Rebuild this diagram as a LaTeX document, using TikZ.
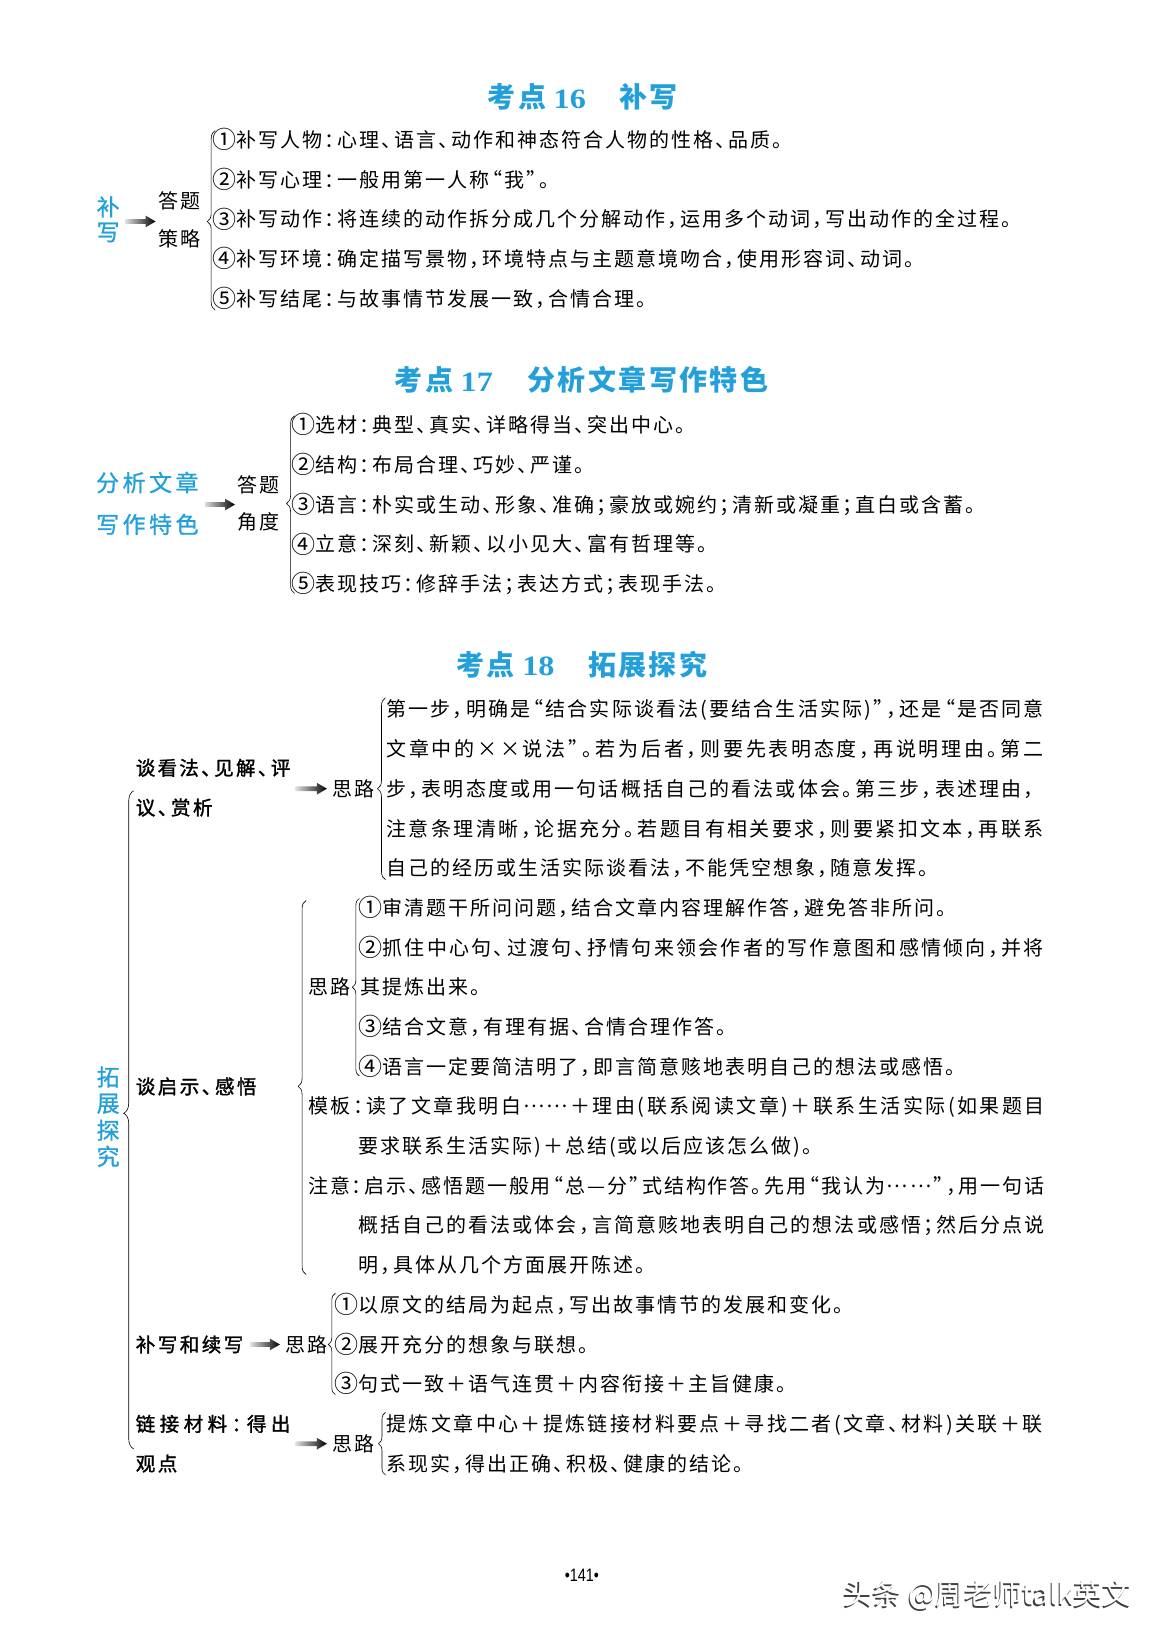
\documentclass[tikz,border=0pt]{standalone}
\usepackage{fontspec}
\usetikzlibrary{decorations.pathreplacing,calc}
\newfontfamily\cjk{Noto Sans CJK SC}
\newfontfamily\cjkm[FakeBold=1.5]{Noto Sans CJK SC}
\newfontfamily\cjkl[FakeBold=0.9]{Noto Sans CJK SC}
\newfontfamily\serifnum{Liberation Serif}
\newfontfamily\sansnum{Liberation Sans}
\definecolor{kcyan}{RGB}{35,160,218}

\XeTeXinterchartokenstate=1
\newcount\cjkcnt
\newdimen\cjkgap
\cjkgap=2pt
\def\cjkglue{\hskip\cjkgap plus 1fil minus 2pt\relax}
\def\hk{\kern-0.45em\relax}
\def\setcls#1#2#3{\cjkcnt=#1\relax\loop\XeTeXcharclass\cjkcnt=#3\relax\advance\cjkcnt by 1\relax\ifnum\cjkcnt<#2\relax\repeat}
\setcls{"3000}{"A000}{5}
\setcls{"FF00}{"FFF0}{5}
\setcls{"2460}{"2474}{5}
\XeTeXcharclass"2026=5
\XeTeXcharclass"2014=5
\XeTeXcharclass"00D7=5
% compressed closing punctuation
\XeTeXcharclass"3001=6 % 、
\XeTeXcharclass"3002=6 % 。
\XeTeXcharclass"FF0C=6 % ，
\XeTeXcharclass"FF1A=6 % ：
\XeTeXcharclass"FF1B=6 % ；
\XeTeXcharclass"201D=6 % ”
% compressed opening punctuation
\XeTeXcharclass"201C=7 % “
\XeTeXinterchartoks 5 5 = {\cjkglue}
\XeTeXinterchartoks 5 0 = {\cjkglue}
\XeTeXinterchartoks 0 5 = {\cjkglue}
\XeTeXinterchartoks 5 6 = {\cjkglue}
\XeTeXinterchartoks 0 6 = {\cjkglue}
\XeTeXinterchartoks 6 5 = {\hk\cjkglue}
\XeTeXinterchartoks 6 0 = {\hk\cjkglue}
\XeTeXinterchartoks 6 6 = {\hk\cjkglue}
\XeTeXinterchartoks 5 7 = {\cjkglue\hk}
\XeTeXinterchartoks 0 7 = {\cjkglue\hk}
\XeTeXinterchartoks 6 7 = {\hk\cjkglue\hk}
\XeTeXinterchartoks 7 5 = {\cjkglue}
\XeTeXinterchartoks 7 0 = {\cjkglue}

\newcommand\bodyfont{\cjk\fontsize{20pt}{20pt}\selectfont\cjkgap=2pt\relax}
\newcommand\boldfont{\cjkm\fontsize{19.5pt}{19.5pt}\selectfont\cjkgap=2.5pt\relax}
\newcommand\ttlfont{\cjk\bfseries\fontsize{28pt}{28pt}\selectfont\cjkgap=2.4pt\relax}
\newcommand\lblfont{\cjkl\fontsize{23pt}{23pt}\selectfont\cjkgap=3.5pt\relax}
\newcommand\numfont{\serifnum\bfseries\fontsize{28pt}{28pt}\selectfont}
\newcommand\cn[1]{\makebox[1em][c]{\raisebox{-0.06em}{\scalebox{1.2}{#1}}}\cjkglue}
\newcommand\ldts{\cjkglue\raisebox{0.3em}{……}\cjkglue}

\newcommand\garrow[2]{\shade[left color=gray!25,right color=black]
  let \p1=(#1), \p2=(#2) in
  (\x1,\y1+2.4pt) -- (\x2-10pt,\y1+2.4pt) -- (\x2-10pt,\y1+5.8pt) -- (\x2,\y1)
  -- (\x2-10pt,\y1-5.8pt) -- (\x2-10pt,\y1-2.4pt) -- (\x1,\y1-2.4pt) -- cycle;}

\tikzset{
  every node/.style={inner sep=0pt,outer sep=0pt},
  bodyw/.style={font=\bodyfont,anchor=west,text height=15.2pt,text depth=0pt},
  bodyc/.style={font=\bodyfont,anchor=center,text height=15.2pt,text depth=0pt},
  boldw/.style={font=\boldfont,anchor=west,text height=14.8pt,text depth=0pt},
  ttlw/.style={font=\ttlfont,text=kcyan,anchor=west,text height=21.3pt,text depth=0pt},
  ttlnum/.style={font=\numfont,text=kcyan,anchor=base west},
  lblc/.style={font=\lblfont,text=kcyan,anchor=center,text height=17.5pt,text depth=0pt},
  lblw/.style={font=\lblfont,text=kcyan,anchor=west,text height=17.5pt,text depth=0pt},
  brc/.style 2 args={decorate,decoration={brace,amplitude=#1,aspect=#2},line width=0.6pt},
}

\begin{document}
\begin{tikzpicture}[x=1.0448pt,y=-1.0448pt]
\fill[white] (0,0) rectangle (1115,1568);
\useasboundingbox (0,0) rectangle (1115,1568);

% ---------------- Section 16
\node[ttlw] (t16a) at (467,93) {考点};
\node[ttlnum] (t16b) at (530,104) {\scalebox{1.15}[1]{16}};
\node[ttlw] (t16c) at (593,93) {补写};
\node[lblc] (k16a) at (103.5,198) {补};
\node[lblc] (k16b) at (103.5,222) {写};
\coordinate (a16s) at (120,212);
\coordinate (a16e) at (149,212);
\garrow{a16s}{a16e}
\node[bodyc] (d16a) at (172,192) {答题};
\node[bodyc] (d16b) at (172,229) {策略};
\coordinate (b16t) at (206,125);
\coordinate (b16b) at (206,297);
\draw[brc={8pt}{0.494}] (b16b) -- (b16t);
\node[bodyw] (s16i1) at (205,134) {\cn{①}补写人物：心理、语言、动作和神态符合人物的性格、品质。};
\node[bodyw] (s16i2) at (205,172) {\cn{②}补写心理：一般用第一人称“我”。};
\node[bodyw] (s16i3) at (205,210) {\cn{③}补写动作：将连续的动作拆分成几个分解动作，运用多个动词，写出动作的全过程。};
\node[bodyw] (s16i4) at (205,248) {\cn{④}补写环境：确定描写景物，环境特点与主题意境吻合，使用形容词、动词。};
\node[bodyw] (s16i5) at (205,286) {\cn{⑤}补写结尾：与故事情节发展一致，合情合理。};

% ---------------- Section 17
\node[ttlw] (t17a) at (378,364) {考点};
\node[ttlnum] (t17b) at (441,375) {\scalebox{1.15}[1]{17}};
\node[ttlw] (t17c) at (505,364) {分析文章写作特色};
\node[lblw] (k17a) at (92,462) {分析文章};
\node[lblw] (k17b) at (92,502) {写作特色};
\coordinate (a17s) at (196,483);
\coordinate (a17e) at (225,483);
\garrow{a17s}{a17e}
\node[bodyc] (d17a) at (247,464) {答题};
\node[bodyc] (d17b) at (247,500) {角度};
\coordinate (b17t) at (282,398);
\coordinate (b17b) at (282,568);
\draw[brc={8pt}{0.506}] (b17b) -- (b17t);
\node[bodyw] (s17i1) at (281,407) {\cn{①}选材：典型、真实、详略得当、突出中心。};
\node[bodyw] (s17i2) at (281,445) {\cn{②}结构：布局合理、巧妙、严谨。};
\node[bodyw] (s17i3) at (281,483) {\cn{③}语言：朴实或生动、形象、准确；豪放或婉约；清新或凝重；直白或含蓄。};
\node[bodyw] (s17i4) at (281,521) {\cn{④}立意：深刻、新颖、以小见大、富有哲理等。};
\node[bodyw] (s17i5) at (281,559) {\cn{⑤}表现技巧：修辞手法；表达方式；表现手法。};

% ---------------- Section 18
\node[ttlw] (t18a) at (437,636) {考点};
\node[ttlnum] (t18b) at (500,647) {\scalebox{1.15}[1]{18}};
\node[ttlw] (t18c) at (563,636) {拓展探究};
\node[lblc] (k18a) at (103.5,1031) {拓};
\node[lblc] (k18b) at (103.5,1056) {展};
\node[lblc] (k18c) at (103.5,1082) {探};
\node[lblc] (k18d) at (103.5,1107) {究};
\coordinate (b18t) at (128,757);
\coordinate (b18b) at (128,1387);
\draw[brc={10pt}{0.51}] (b18b) -- (b18t);

% -- 谈看法
\node[boldw] (c1a) at (130,735) {\makebox[154.6pt][s]{谈看法、见解、评}};
\node[boldw] (c1b) at (130,773) {议、赏析};
\coordinate (a18as) at (283,755);
\coordinate (a18ae) at (313,755);
\garrow{a18as}{a18ae}
\node[bodyw] (p1) at (318,755) {思路};
\coordinate (b1t) at (369,668);
\coordinate (b1b) at (369,842);
\draw[brc={8pt}{0.5}] (b1b) -- (b1t);
\node[bodyw] (q1l1) at (370,679) {\makebox[657.2pt][s]{第一步，明确是“结合实际谈看法(要结合生活实际)”，还是“是否同意}};
\node[bodyw] (q1l2) at (370,717) {\makebox[657.2pt][s]{文章中的××说法”。若为后者，则要先表明态度，再说明理由。第二}};
\node[bodyw] (q1l3) at (370,755) {\makebox[657.2pt][s]{步，表明态度或用一句话概括自己的看法或体会。第三步，表述理由，}};
\node[bodyw] (q1l4) at (370,793) {\makebox[657.2pt][s]{注意条理清晰，论据充分。若题目有相关要求，则要紧扣文本，再联系}};
\node[bodyw] (q1l5) at (370,831) {自己的经历或生活实际谈看法，不能凭空想象，随意发挥。};

% -- 谈启示、感悟
\node[boldw] (c2) at (130,1040) {谈启示、感悟};
\coordinate (b2t) at (293,862);
\coordinate (b2b) at (293,1220);
\draw[brc={8pt}{0.503}] (b2b) -- (b2t);
\node[bodyw] (p2) at (295,945) {思路};
\coordinate (b3t) at (344,860);
\coordinate (b3b) at (344,1030);
\draw[brc={7pt}{0.5}] (b3b) -- (b3t);
\node[bodyw] (q2l1) at (345,869) {\cn{①}审清题干所问问题，结合文章内容理解作答，避免答非所问。};
\node[bodyw] (q2l2) at (345,907) {\makebox[683.3pt][s]{\cn{②}抓住中心句、过渡句、抒情句来领会作者的写作意图和感情倾向，并将}};
\node[bodyw] (q2l3) at (345,945) {其提炼出来。};
\node[bodyw] (q2l4) at (345,983) {\cn{③}结合文意，有理有据、合情合理作答。};
\node[bodyw] (q2l5) at (345,1021) {\cn{④}语言一定要简洁明了，即言简意赅地表明自己的想法或感悟。};
\node[bodyw] (m1) at (295,1059) {\makebox[736.6pt][s]{模板：读了文章我明白\ldts＋理由(联系阅读文章)＋联系生活实际(如果题目}};
\node[bodyw] (m2) at (343,1097) {要求联系生活实际)＋总结(或以后应该怎么做)。};
\node[bodyw] (n1) at (295,1135) {\makebox[736.6pt][s]{注意：启示、感悟题一般用“总—分”式结构作答。先用“我认为\ldts”，用一句话}};
\node[bodyw] (n2) at (343,1173) {\makebox[686.4pt][s]{概括自己的看法或体会，言简意赅地表明自己的想法或感悟；然后分点说}};
\node[bodyw] (n3) at (343,1211) {明，具体从几个方面展开陈述。};

% -- 补写和续写
\node[boldw] (c3) at (130,1287) {补写和续写};
\coordinate (a18cs) at (240,1287);
\coordinate (a18ce) at (268,1287);
\garrow{a18cs}{a18ce}
\node[bodyw] (p3) at (273,1287) {思路};
\coordinate (b4t) at (321,1238);
\coordinate (b4b) at (321,1335);
\draw[brc={7pt}{0.495}] (b4b) -- (b4t);
\node[bodyw] (r1) at (322,1249) {\cn{①}以原文的结局为起点，写出故事情节的发展和变化。};
\node[bodyw] (r2) at (322,1287) {\cn{②}展开充分的想象与联想。};
\node[bodyw] (r3) at (322,1325) {\cn{③}句式一致＋语气连贯＋内容衔接＋主旨健康。};

% -- 链接材料
\node[boldw] (c4a) at (130,1363) {\makebox[154.6pt][s]{链接材料：得出}};
\node[boldw] (c4b) at (130,1401) {观点};
\coordinate (a18ds) at (283,1382);
\coordinate (a18de) at (313,1382);
\garrow{a18ds}{a18de}
\node[bodyw] (p4) at (318,1382) {思路};
\coordinate (b5t) at (369,1352);
\coordinate (b5b) at (369,1412);
\draw[brc={7pt}{0.5}] (b5b) -- (b5t);
\node[bodyw] (u1) at (370,1363) {\makebox[656.1pt][s]{提炼文章中心＋提炼链接材料要点＋寻找二者(文章、材料)关联＋联}};
\node[bodyw] (u2) at (370,1401) {系现实，得出正确、积极、健康的结论。};

% ---------------- footer
\node[font={\sansnum\fontsize{18pt}{18pt}\selectfont},anchor=center] (pg) at (557,1508) {\scalebox{0.8}[1]{•141•}};
\node[font={\cjk\fontsize{29pt}{29pt}\selectfont\cjkgap=0pt},text=black!75,anchor=west] (wms) at (806.8,1528.2) {头条 @周老师talk英文};
\node[font={\cjk\fontsize{29pt}{29pt}\selectfont\cjkgap=0pt},text=white,anchor=west] (wm) at (808,1527) {头条 @周老师talk英文};
\end{tikzpicture}
\end{document}
